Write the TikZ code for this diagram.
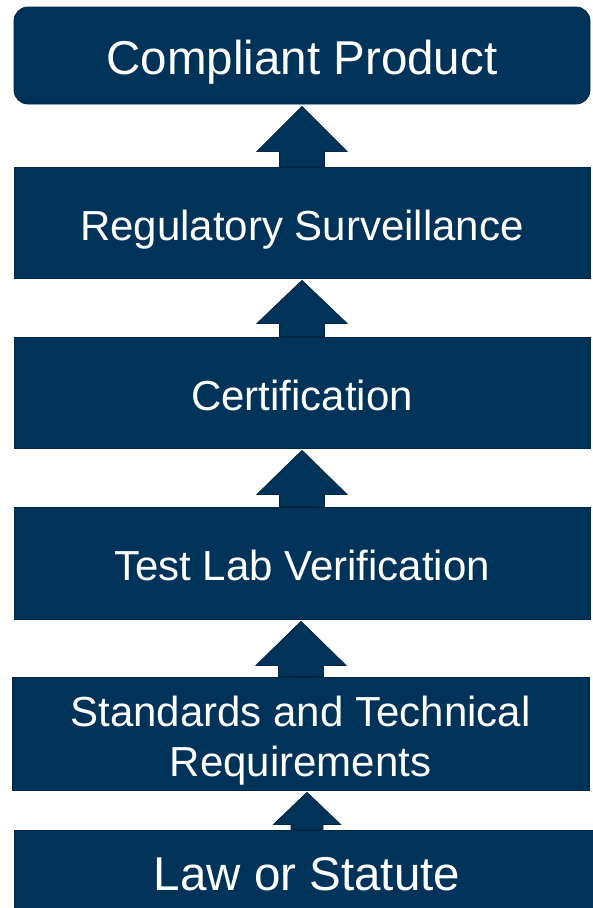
\documentclass[tikz,border=0pt]{standalone}
\usepackage{fontspec}
\setmainfont{Liberation Sans}
\usetikzlibrary{calc}
\definecolor{navy}{RGB}{0,51,89}
\definecolor{navyedge}{RGB}{0,38,66}

\begin{document}
\begin{tikzpicture}[x=1pt,y=-1pt,
    stage/.style={draw=navyedge,fill=navy,line width=0.8pt,text=white,align=center,inner sep=0pt,
      text height=35pt,text depth=0pt,font=\fontsize{42}{50}\selectfont},
    bigstage/.style={stage,text height=37pt,font=\fontsize{47.5}{56}\selectfont},
    blockarrow/.style={draw=navyedge,fill=navy,line width=0.8pt,line join=miter}]
  % page size
  \path[use as bounding box,clip] (0,0) rectangle (593,908);

  % the stages, from the top down
  \node[bigstage,rounded corners=14pt,minimum width=576pt,minimum height=97pt] (product) at (302,55.5) {Compliant Product};
  \node[stage,minimum width=576pt,minimum height=111pt] (surveil) at (302,222.5) {Regulatory Surveillance};
  \node[stage,minimum width=576pt,minimum height=111pt] (cert) at (302,392.5) {Certification};
  \node[stage,minimum width=576pt,minimum height=112pt] (lab) at (302,563) {Test Lab Verification};
  \node[stage,text height=85pt,minimum width=577pt,minimum height=113pt] (standards) at (300.5,733.5) {Standards and Technical\\Requirements};
  \node[bigstage,minimum width=586pt,minimum height=84pt] (law) at (307,872) {Law or Statute};

  % block arrows, each from the lower stage up to the next
  \foreach \lo/\hi/\dx/\hw/\sw/\hl in {surveil/product/0/45/22.5/45, cert/surveil/0/45/22.5/43, lab/cert/0/45/22.5/44, standards/lab/-1/45/22.5/44, law/standards/6.5/33.5/16/32}
  {
    \coordinate (tip) at ($(\hi.south)+(\dx,2)$);
    \coordinate (sl) at ($(tip)+(-\sw,0)$);
    \coordinate (sr) at ($(tip)+(\sw,0)$);
    \draw[blockarrow] (tip) -- ++(\hw,\hl) -- ($(sr)+(0,\hl)$) -- (sr |- \lo.north)
      -- (sl |- \lo.north) -- ($(sl)+(0,\hl)$) -- ($(tip)+(-\hw,\hl)$) -- cycle;
  }
\end{tikzpicture}
\end{document}
